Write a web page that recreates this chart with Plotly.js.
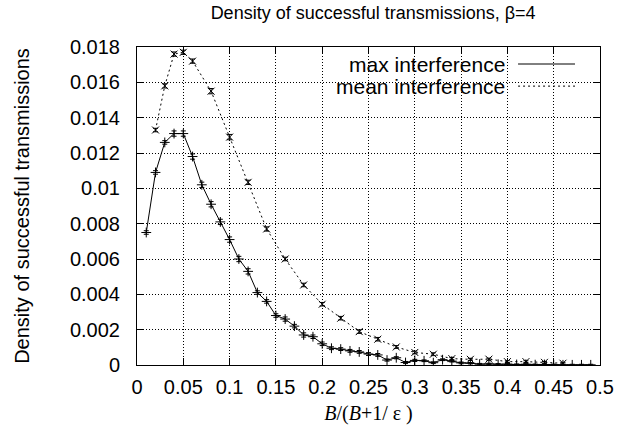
<!DOCTYPE html>
<html>
<head>
<meta charset="utf-8">
<script src="https://cdn.plot.ly/plotly-3.0.1.min.js"></script>
<style>html,body{margin:0;padding:0;background:#fff;}#chart{width:634px;height:435px;}</style>
</head>
<body>
<div id="chart"></div>
<script>
// max interference (solid, + markers)
var maxX = [0.01,0.02,0.03,0.04,0.05,0.06,0.07,0.08,0.09,0.10,
            0.11,0.12,0.13,0.14,0.15,0.16,0.17,0.18,0.19,0.20,
            0.21,0.22,0.23,0.24,0.25,0.26,0.27,0.28,0.29,0.30,
            0.31,0.32,0.33,0.34,0.35,0.36,0.37,0.38,0.39,0.40,
            0.41,0.42,0.43,0.44,0.45,0.46,0.47,0.48,0.49];
var maxY = [0.0075,0.0109,0.0126,0.0131,0.0131,0.0118,0.0102,0.0091,0.0081,0.0071,
            0.0060,0.0053,0.0041,0.0036,0.0028,0.0026,0.0022,0.0017,0.0016,0.0012,
            0.00095,0.0009,0.0008,0.00074,0.00062,0.00057,0.00028,0.00041,0.00014,0.00026,
            0.00024,0.00013,0.0003,0.00022,0.00012,0.0001,0.00005,0.00006,0.00004,0.00005,
            0.00003,0.00004,0.00002,0.00003,0.00002,0.00001,0.00001,0.00001,0.00001];
var maxErr = [0.0001,0.0001,0.0001,0.00015,0.00015,0.00015,0.00015,0.00015,0.00015,0.00015,
              0.00015,0.00015,0.0001,0.0001,0.0001,0.00012,0.0001,0.00012,0.0001,0.0001,
              0.00008,0.00008,0.00008,0.00008,0.00008,0.00008,0.00006,0.00006,0.00006,0.00006,
              0.00005,0.00005,0.00005,0.00005,0.00005,0.00004,0.00004,0.00004,0.00004,0.00004,
              0.00003,0.00003,0.00003,0.00003,0.00003,0.00003,0.00003,0.00003,0.00003];

// mean interference (dotted, x markers)
var meanX = [0.02,0.03,0.04,0.05,0.06,0.08,0.10,0.12,0.14,0.16,
             0.18,0.20,0.22,0.24,0.26,0.28,0.30,0.32,0.34,0.36,
             0.38,0.40,0.42,0.44,0.46];
var meanY = [0.0133,0.0158,0.0176,0.0177,0.0172,0.0155,0.0129,0.01034,0.0077,0.0060,
             0.00453,0.00344,0.00265,0.00189,0.00146,0.00102,0.00071,0.00061,0.00036,0.00032,
             0.00033,0.00019,0.00019,0.00015,0.0001];
var meanErr = [0.0001,0.00012,0.00012,0.00012,0.00012,0.00015,0.00015,0.00012,0.00012,0.0001,
               0.0001,0.0001,0.0001,0.0001,0.0001,0.00008,0.00008,0.00008,0.00006,0.00006,
               0.00006,0.00005,0.00005,0.00005,0.00005];

var xTicks = [0,0.05,0.1,0.15,0.2,0.25,0.3,0.35,0.4,0.45,0.5];
var xTickText = ['0','0.05','0.1','0.15','0.2','0.25','0.3','0.35','0.4','0.45','0.5'];
var yTicks = [0,0.002,0.004,0.006,0.008,0.01,0.012,0.014,0.016,0.018];
var yTickText = ['0','0.002','0.004','0.006','0.008','0.01','0.012','0.014','0.016','0.018'];

var seriesNames = ['max interference','mean interference'];

var FONT = 'Liberation Sans, Arial, Helvetica, sans-serif';

var traces = [
  {
    x: maxX, y: maxY, type: 'scatter', mode: 'lines+markers', name: seriesNames[0],
    line: {color: '#000', width: 1},
    marker: {symbol: 'cross-thin', size: 7, color: '#000', line: {color: '#000', width: 1}},
    error_y: {type: 'data', array: maxErr, visible: true, color: '#000', thickness: 1, width: 2.5},
    showlegend: false
  },
  {
    x: meanX, y: meanY, type: 'scatter', mode: 'lines+markers', name: seriesNames[1],
    line: {color: '#000', width: 1, dash: '2px,3px'},
    marker: {symbol: 'x-thin', size: 7, color: '#000', line: {color: '#000', width: 1}},
    error_y: {type: 'data', array: meanErr, visible: true, color: '#000', thickness: 1, width: 2.5},
    showlegend: false
  }
];

var layout = {
  width: 634, height: 435,
  margin: {l: 137, r: 34, t: 47, b: 70},
  paper_bgcolor: '#fff', plot_bgcolor: '#fff',
  font: {family: FONT, size: 20, color: '#000'},
  title: {text: 'Density of successful transmissions, β=4', font: {family: FONT, size: 18, color: '#000'},
          xref: 'paper', x: 0.51, xanchor: 'center', yref: 'container', y: 0.985, yanchor: 'top'},
  xaxis: {
    range: [0, 0.5], tickvals: xTicks, ticktext: xTickText,
    ticks: 'inside', ticklen: 7, tickcolor: '#000', tickwidth: 1,
    showline: true, linecolor: '#000', linewidth: 1, mirror: 'ticks',
    showgrid: true, gridcolor: '#000', griddash: '1px,2px', gridwidth: 1,
    zeroline: false, ticklabelstandoff: 4,
    tickfont: {family: FONT, size: 20, color: '#000'},
    title: {text: '<i>B</i>/(<i>B</i>+1/ ε )', font: {family: 'Liberation Serif, Times New Roman, serif', size: 20, color: '#000'}, standoff: 8}
  },
  yaxis: {
    range: [0, 0.018], tickvals: yTicks, ticktext: yTickText,
    ticks: 'inside', ticklen: 7, tickcolor: '#000', tickwidth: 1,
    showline: true, linecolor: '#000', linewidth: 1, mirror: 'ticks',
    showgrid: true, gridcolor: '#000', griddash: '1px,2px', gridwidth: 1,
    zeroline: false, ticklabelstandoff: 12,
    tickfont: {family: FONT, size: 20, color: '#000'},
    title: {text: 'Density of successful transmissions', font: {family: FONT, size: 20, color: '#000'}, standoff: 34}
  },
  annotations: [
    {xref: 'paper', yref: 'paper', x: 0.7985, y: 0.9465, xanchor: 'right', yanchor: 'middle',
     text: seriesNames[0], showarrow: false, font: {family: FONT, size: 21, color: '#000'}},
    {xref: 'paper', yref: 'paper', x: 0.7985, y: 0.877, xanchor: 'right', yanchor: 'middle',
     text: seriesNames[1], showarrow: false, font: {family: FONT, size: 21, color: '#000'}}
  ],
  shapes: [
    {type: 'rect', xref: 'paper', yref: 'paper', x0: 0.330, x1: 0.982, y0: 0.843, y1: 0.997,
     fillcolor: '#fff', line: {width: 0}, layer: 'between'},
    {type: 'line', xref: 'paper', yref: 'paper', x0: 0.823, x1: 0.946, y0: 0.9465, y1: 0.9465,
     line: {color: '#000', width: 1}},
    {type: 'line', xref: 'paper', yref: 'paper', x0: 0.823, x1: 0.946, y0: 0.877, y1: 0.877,
     line: {color: '#000', width: 1, dash: '2px,3px'}}
  ]
};

Plotly.newPlot('chart', traces, layout, {displayModeBar: false, staticPlot: true});
</script>
</body>
</html>
